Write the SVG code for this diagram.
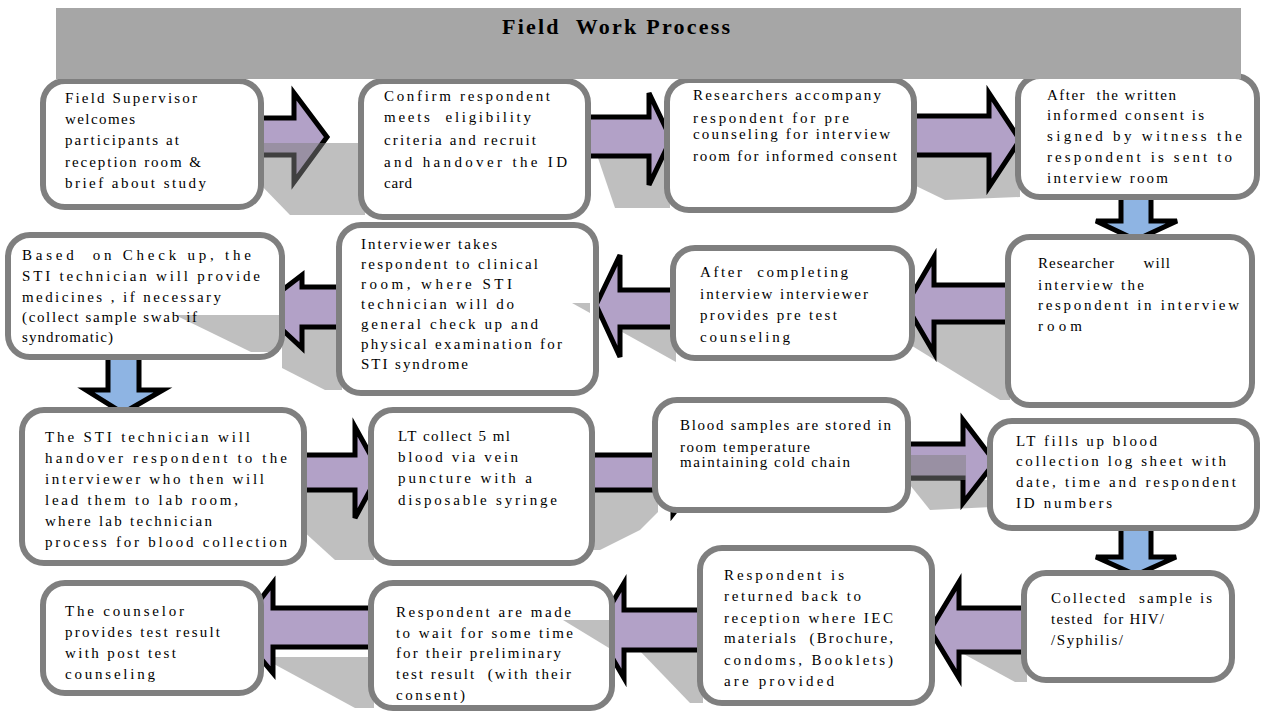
<svg xmlns="http://www.w3.org/2000/svg" width="1262" height="712" viewBox="0 0 1262 712">
<style>
.box{fill:#fff;stroke:#7f7f7f;stroke-width:6}
.arr{fill:#b2a1c7;stroke:#000;stroke-width:5;stroke-linejoin:miter}
.darr{fill:#8eb4e3;stroke:#000;stroke-width:5}
.sh{fill:#808080;fill-opacity:0.5}
.t{font-family:"Liberation Serif","Times New Roman",serif;font-size:15px;fill:#000}
.title{font-family:"Liberation Serif","Times New Roman",serif;font-size:22px;font-weight:bold;fill:#000}
</style>
<rect width="1262" height="712" fill="#fff"/>
<g id="shadows">
<polygon class="sh" points="596,152 670,152 670,208 615,208"/>
<polygon class="sh" points="914,143 1020,143 1020,197 945,200 914,185"/>
<polygon class="sh" points="865,317 1010,317 1010,400 1000,400"/>
<polygon class="sh" points="570,303 676,303 676,362"/>
<polygon class="sh" points="282,313 342,313 342,390 325,390 282,368"/>
<polygon class="sh" points="302,490 374,490 374,560 335,560 302,530"/>
<polygon class="sh" points="593,492 658,492 658,512 640,530 600,550 593,550"/>
<polygon class="sh" points="906,480 992,480 992,507 930,510"/>
<polygon class="sh" points="261,657 374,657 374,708 355,708"/>
<polygon class="sh" points="612,622 703,622 703,703 690,703"/>
<polygon class="sh" points="938,640 1027,640 1027,682 1015,682"/>
</g>
<g id="connectors">
<path class="arr" d="M258,118 L294,118 L294,93 L327,137 L294,182 L294,155 L258,155 Z"/>
<path class="arr" d="M584,117 L649,117 L649,93 L671,139 L649,185 L649,156 L584,156 Z"/>
<path class="arr" d="M910,116 L989,116 L989,93 L1020,140 L989,187 L989,155 L910,155 Z"/>
<path class="darr" d="M1121,193 L1151,193 L1151,221 L1177,221 L1136,240 L1096,221 L1121,221 Z"/>
<path class="arr" d="M1012,285 L934,285 L934,257 L906,305 L934,353 L934,322 L1012,322 Z"/>
<path class="arr" d="M677,290 L620,290 L620,255 L596,305 L620,357 L620,327 L677,327 Z"/>
<path class="arr" d="M343,287 L302,287 L302,275 L259,308 L302,348 L302,327 L343,327 Z"/>
<path class="darr" d="M108,354 L139,354 L139,390 L163,390 L123,413 L86,390 L108,390 Z"/>
<path class="arr" d="M300,455 L355,455 L355,427 L380,472 L355,518 L355,490 L300,490 Z"/>
<path class="arr" d="M588,455 L673,455 L673,432 L705,473 L673,514 L673,490 L588,490 Z"/>
<path class="arr" d="M904,444 L963,444 L963,420 L995,462 L963,503 L963,478 L904,478 Z"/>
<path class="darr" d="M1121,525 L1151,525 L1151,557 L1176,557 L1136,575 L1096,557 L1121,557 Z"/>
<path class="arr" d="M1028,608 L959,608 L959,582 L930,630 L959,678 L959,652 L1028,652 Z"/>
<path class="arr" d="M704,610 L624,610 L624,583 L596,630 L624,678 L624,650 L704,650 Z"/>
<path class="arr" d="M375,608 L273,608 L273,583 L237,630 L273,673 L273,647 L375,647 Z"/>
</g>
<g id="overlay-shadows">
<polygon class="sh" points="256,143 365,143 365,215 290,215 256,180"/>
<polygon class="sh" points="906,455 966,455 966,480 906,480"/>
</g>
<g id="n1"><rect class="box" x="43" y="81" width="218" height="126" rx="22"/>
<text class="t" x="65" y="103" textLength="132">Field Supervisor</text><text class="t" x="65" y="124" textLength="70">welcomes</text><text class="t" x="65" y="145" textLength="114">participants at</text><text class="t" x="65" y="167" textLength="136">reception room &amp;</text><text class="t" x="65" y="188" textLength="141">brief about study</text></g>
<g id="n2"><rect class="box" x="361" y="81" width="227" height="136" rx="22"/>
<text class="t" x="384" y="101" textLength="166">Confirm respondent</text><text class="t" x="384" y="122" textLength="147" xml:space="preserve">meets  eligibility</text><text class="t" x="384" y="145" textLength="152">criteria and recruit</text><text class="t" x="384" y="167" textLength="183">and handover the ID</text><text class="t" x="384" y="188" textLength="28">card</text></g>
<g id="n3"><rect class="box" x="667" y="80" width="247" height="130" rx="22"/>
<text class="t" x="693" y="100" textLength="188">Researchers accompany</text><text class="t" x="693" y="123" textLength="156">respondent for pre</text><text class="t" x="693" y="139" textLength="197">counseling for interview</text><text class="t" x="693" y="161" textLength="204">room for informed consent</text></g>
<g id="n4"><rect class="box" x="1018" y="76" width="239" height="121" rx="22"/>
<text class="t" x="1047" y="100" textLength="129" xml:space="preserve">After  the written</text><text class="t" x="1047" y="120" textLength="157">informed consent is</text><text class="t" x="1047" y="141" textLength="195">signed by witness the</text><text class="t" x="1047" y="162" textLength="185">respondent is sent to</text><text class="t" x="1047" y="183" textLength="121">interview room</text></g>
<g id="n5"><rect class="box" x="1008" y="237" width="244" height="168" rx="22"/>
<text class="t" x="1038" y="268" textLength="132" xml:space="preserve">Researcher      will</text><text class="t" x="1038" y="290" textLength="106">interview the</text><text class="t" x="1038" y="310" textLength="201">respondent in interview</text><text class="t" x="1038" y="331" textLength="44">room</text></g>
<g id="n6"><rect class="box" x="673" y="248" width="239" height="110" rx="22"/>
<text class="t" x="700" y="277" textLength="148" xml:space="preserve">After  completing</text><text class="t" x="700" y="299" textLength="168">interview interviewer</text><text class="t" x="700" y="320" textLength="137">provides pre test</text><text class="t" x="700" y="342" textLength="90">counseling</text></g>
<g id="n7"><rect class="box" x="339" y="225" width="257" height="168" rx="22"/>
<polygon class="sh" points="572,303 590,303 590,313"/>
<text class="t" x="361" y="249" textLength="136">Interviewer takes</text><text class="t" x="361" y="269" textLength="177">respondent to clinical</text><text class="t" x="361" y="289" textLength="151">room, where STI</text><text class="t" x="361" y="309" textLength="153">technician will do</text><text class="t" x="361" y="329" textLength="177">general check up and</text><text class="t" x="361" y="349" textLength="201">physical examination for</text><text class="t" x="361" y="369" textLength="107">STI syndrome</text></g>
<g id="n8"><rect class="box" x="8" y="235" width="274" height="122" rx="22"/>
<polygon class="sh" points="175,315 279,315 279,352 251,352"/>
<text class="t" x="22" y="260" textLength="229" xml:space="preserve">Based  on Check up, the</text><text class="t" x="22" y="281" textLength="238">STI technician will provide</text><text class="t" x="22" y="302" textLength="199">medicines , if necessary</text><text class="t" x="22" y="322" textLength="175">(collect sample swab if</text><text class="t" x="22" y="342" textLength="91">syndromatic)</text></g>
<g id="n9"><rect class="box" x="22" y="410" width="282" height="153" rx="22"/>
<text class="t" x="45" y="442" textLength="205">The STI technician will</text><text class="t" x="45" y="463" textLength="242">handover respondent to the</text><text class="t" x="45" y="484" textLength="219">interviewer who then will</text><text class="t" x="45" y="505" textLength="193">lead them to lab room,</text><text class="t" x="45" y="526" textLength="167">where lab technician</text><text class="t" x="45" y="547" textLength="242">process for blood collection</text></g>
<g id="n10"><rect class="box" x="371" y="410" width="221" height="153" rx="22"/>
<text class="t" x="398" y="441" textLength="112">LT collect 5 ml</text><text class="t" x="398" y="462" textLength="120">blood via vein</text><text class="t" x="398" y="483" textLength="134">puncture with a</text><text class="t" x="398" y="505" textLength="159">disposable syringe</text></g>
<g id="n11"><rect class="box" x="655" y="400" width="253" height="110" rx="22"/>
<text class="t" x="680" y="430" textLength="211">Blood samples are stored in</text><text class="t" x="680" y="452" textLength="130">room temperature</text><text class="t" x="680" y="467" textLength="170">maintaining cold chain</text></g>
<g id="n12"><rect class="box" x="990" y="421" width="267" height="107" rx="22"/>
<text class="t" x="1016" y="446" textLength="141">LT fills up blood</text><text class="t" x="1016" y="466" textLength="210">collection log sheet with</text><text class="t" x="1016" y="487" textLength="220">date, time and respondent</text><text class="t" x="1016" y="508" textLength="96">ID numbers</text></g>
<g id="n13"><rect class="box" x="1024" y="573" width="208" height="107" rx="22"/>
<text class="t" x="1051" y="603" textLength="161" xml:space="preserve">Collected  sample is</text><text class="t" x="1051" y="624" textLength="113" xml:space="preserve">tested  for HIV/</text><text class="t" x="1051" y="645" textLength="72">/Syphilis/</text></g>
<g id="n14"><rect class="box" x="700" y="548" width="232" height="155" rx="22"/>
<text class="t" x="724" y="580" textLength="120">Respondent is</text><text class="t" x="724" y="601" textLength="137">returned back to</text><text class="t" x="724" y="623" textLength="169">reception where IEC</text><text class="t" x="724" y="643" textLength="169" xml:space="preserve">materials  (Brochure,</text><text class="t" x="724" y="665" textLength="169">condoms, Booklets)</text><text class="t" x="724" y="686" textLength="110">are provided</text></g>
<g id="n15"><rect class="box" x="371" y="583" width="241" height="125" rx="22"/>
<polygon class="sh" points="563,620 609,620 609,648"/>
<text class="t" x="396" y="617" textLength="175">Respondent are made</text><text class="t" x="396" y="638" textLength="177">to wait for some time</text><text class="t" x="396" y="658" textLength="165">for their preliminary</text><text class="t" x="396" y="679" textLength="175" xml:space="preserve">test result  (with their</text><text class="t" x="396" y="700" textLength="69">consent)</text></g>
<g id="n16"><rect class="box" x="43" y="583" width="218" height="110" rx="22"/>
<text class="t" x="65" y="616" textLength="119">The counselor</text><text class="t" x="65" y="637" textLength="155">provides test result</text><text class="t" x="65" y="658" textLength="111">with post test</text><text class="t" x="65" y="679" textLength="90">counseling</text></g>
<g id="header"><rect x="56" y="8" width="1185" height="71" fill="#a6a6a6"/>
<text class="title" x="502" y="34" textLength="228" xml:space="preserve">Field  Work Process</text></g>
</svg>
